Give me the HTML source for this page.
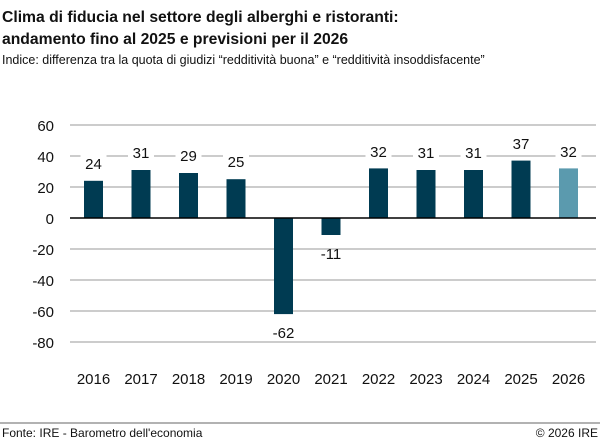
<!DOCTYPE html>
<html><head><meta charset="utf-8"><style>
body{margin:0;width:600px;height:443px;background:#fff;font-family:"Liberation Sans",sans-serif;overflow:hidden}
</style></head><body>
<svg width="600" height="443" xmlns="http://www.w3.org/2000/svg" font-family="Liberation Sans, sans-serif">
<text x="2" y="22" font-size="15.7" font-weight="bold" fill="#111">Clima di fiducia nel settore degli alberghi e ristoranti:</text>
<text x="2" y="44" font-size="15.7" font-weight="bold" fill="#111">andamento fino al 2025 e previsioni per il 2026</text>
<text x="2" y="64" font-size="12.5" fill="#111">Indice: differenza tra la quota di giudizi “redditività buona” e “redditività insoddisfacente”</text>
<g stroke="#999" stroke-width="1">
<line x1="70" x2="596" y1="125" y2="125"/><line x1="70" x2="596" y1="156" y2="156"/><line x1="70" x2="596" y1="187" y2="187"/>
<line x1="70" x2="596" y1="249" y2="249"/><line x1="70" x2="596" y1="280" y2="280"/><line x1="70" x2="596" y1="311" y2="311"/><line x1="70" x2="596" y1="342" y2="342"/>
</g>
<g font-size="15" fill="#111" text-anchor="end">
<text x="54" y="131">60</text><text x="54" y="162">40</text><text x="54" y="193">20</text><text x="54" y="224">0</text>
<text x="54" y="255">-20</text><text x="54" y="286">-40</text><text x="54" y="317">-60</text><text x="54" y="348">-80</text>
</g>
<g fill="#003b52">
<rect x="84" y="180.8" width="19" height="37.2"/>
<rect x="131.5" y="170" width="19" height="48"/>
<rect x="179" y="173" width="19" height="45"/>
<rect x="226.5" y="179.2" width="19" height="38.8"/>
<rect x="274" y="218" width="19" height="96.1"/>
<rect x="321.5" y="218" width="19" height="17"/>
<rect x="369" y="168.4" width="19" height="49.6"/>
<rect x="416.5" y="170" width="19" height="48"/>
<rect x="464" y="170" width="19" height="48"/>
<rect x="511.5" y="160.6" width="19" height="57.4"/>
<rect x="559" y="168.4" width="19" height="49.6" fill="#5b9aae"/>
</g>
<g fill="#fff">
<rect x="80.5" y="154" width="26" height="18"/>
<rect x="128" y="143" width="26" height="18"/>
<rect x="175.5" y="146" width="26" height="18"/>
<rect x="223" y="152" width="26" height="18"/>
<rect x="365.5" y="141.5" width="26" height="18"/>
<rect x="413" y="143" width="26" height="18"/>
<rect x="460.5" y="143" width="26" height="18"/>
<rect x="508" y="134" width="26" height="18"/>
<rect x="555.5" y="141.5" width="26" height="18"/>
</g>
<g font-size="15" fill="#111" text-anchor="middle">
<text x="93.5" y="169">24</text><text x="141" y="158">31</text><text x="188.5" y="161">29</text><text x="236" y="167">25</text>
<text x="283.5" y="338">-62</text><text x="331" y="259">-11</text>
<text x="378.5" y="157">32</text><text x="426" y="158">31</text><text x="473.5" y="158">31</text><text x="521" y="149">37</text><text x="568.5" y="157">32</text>
</g>
<g font-size="15" fill="#111" text-anchor="middle">
<text x="93.5" y="384">2016</text><text x="141" y="384">2017</text><text x="188.5" y="384">2018</text><text x="236" y="384">2019</text>
<text x="283.5" y="384">2020</text><text x="331" y="384">2021</text><text x="378.5" y="384">2022</text><text x="426" y="384">2023</text>
<text x="473.5" y="384">2024</text><text x="521" y="384">2025</text><text x="568.5" y="384">2026</text>
</g>
<line x1="70" x2="596" y1="218" y2="218" stroke="#000" stroke-width="1.5"/>
<line x1="0" x2="600" y1="423" y2="423" stroke="#666" stroke-width="1"/>
<text x="2" y="437" font-size="12" fill="#111">Fonte: IRE - Barometro dell'economia</text>
<text x="598" y="437" font-size="12" fill="#111" text-anchor="end">© 2026 IRE</text>
</svg>
</body></html>
